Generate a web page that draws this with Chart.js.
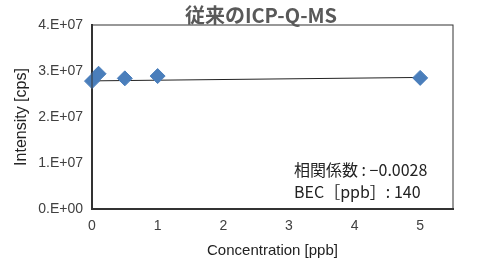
<!DOCTYPE html>
<html>
<head>
<meta charset="utf-8">
<script src="https://cdn.jsdelivr.net/npm/chart.js@4/dist/chart.umd.min.js"></script>
<style>
  html, body { margin: 0; padding: 0; background: #fff; }
  #wrap { width: 477px; height: 264px; }
</style>
</head>
<body>
<div id="wrap"><canvas id="icpChart"></canvas></div>
<script>
'use strict'
// measured points
var concentration = [0, 0.1, 0.5, 1, 5];
var intensity = [2.78e7, 2.94e7, 2.84e7, 2.89e7, 2.85e7];
// linear trend line ends
var trendX = [0, 5];
var trendY = [2.785e7, 2.86e7];
var yTicks = [0, 1e7, 2e7, 3e7, 4e7];
var xTicks = [0, 1, 2, 3, 4, 5];
var chartTitle = '従来のICP-Q-MS';
var notes = ['相関係数 : −0.0028', 'BEC［ppb］: 140'];

function pts(xs, ys) {
    return xs.map(function(x, i) { return { x: x, y: ys[i] }; });
}

var frame = {
    id: 'frame',
    afterDraw: function(chart) {
        var ctx = chart.ctx, a = chart.chartArea;
        ctx.save();
        ctx.strokeStyle = '#333';
        ctx.lineWidth = 1;
        ctx.strokeRect(a.left, a.top, a.right - a.left, a.bottom - a.top);
        ctx.fillStyle = '#595959';
        ctx.font = 'bold 20px "Noto Sans CJK JP", "Liberation Sans", sans-serif';
        ctx.textAlign = 'center';
        ctx.textBaseline = 'middle';
        ctx.fillText(chartTitle, 261, 15);
        ctx.fillStyle = '#222';
        ctx.font = '16px "Noto Sans CJK JP", "Liberation Sans", sans-serif';
        ctx.textAlign = 'left';
        ctx.fillText(notes[0], 294, 170);
        ctx.fillText(notes[1], 294, 192);
        ctx.restore();
    }
};

var ctx = document.getElementById('icpChart');
var chart = new Chart(ctx, {
    type: 'scatter',
    data: {
        datasets: [{
            data: pts(trendX, trendY),
            showLine: true,
            borderColor: '#222',
            borderWidth: 1,
            pointRadius: 0,
            clip: false,
            order: 2
        }, {
            data: pts(concentration, intensity),
            backgroundColor: '#4a7ebb',
            borderColor: '#4a7ebb',
            pointStyle: 'rectRot',
            pointRadius: 7.5,
            clip: false,
            order: 1
        }]
    },
    options: {
        responsive: true,
        maintainAspectRatio: false,
        animation: false,
        layout: { padding: { top: 25, right: 24, left: 0, bottom: 0 } },
        plugins: {
            legend: { display: false },
            tooltip: { enabled: false }
        },
        scales: {
            x: {
                type: 'linear',
                min: 0,
                max: 5.5,
                afterBuildTicks: function(s) {
                    s.ticks = xTicks.map(function(v) { return { value: v }; });
                },
                afterFit: function(s) { s.height = 55; },
                grid: { display: false, drawTicks: true, tickLength: 5, tickColor: '#333' },
                border: { color: '#333', width: 2 },
                ticks: { color: '#404040', font: { family: 'Liberation Sans', size: 14 }, padding: 4, maxRotation: 0 },
                title: {
                    display: true,
                    text: 'Concentration [ppb]',
                    color: '#222',
                    font: { family: 'Liberation Sans', size: 15 },
                    padding: { top: 4 }
                }
            },
            y: {
                min: 0,
                max: 4e7,
                afterBuildTicks: function(s) {
                    s.ticks = yTicks.map(function(v) { return { value: v }; });
                },
                afterFit: function(s) { s.width = 92; },
                grid: { display: false, drawTicks: true, tickLength: 5, tickColor: '#333' },
                border: { color: '#333', width: 2 },
                ticks: {
                    color: '#404040',
                    font: { family: 'Liberation Sans', size: 14 },
                    padding: 4,
                    callback: function(v) { return (v / 1e7).toFixed(0) + '.E+' + (v === 0 ? '00' : '07'); }
                },
                title: {
                    display: true,
                    text: 'Intensity [cps]',
                    color: '#222',
                    font: { family: 'Liberation Sans', size: 16 },
                    padding: { top: 12, bottom: 0 }
                }
            }
        }
    },
    plugins: [frame]
});
</script>
</body>
</html>
